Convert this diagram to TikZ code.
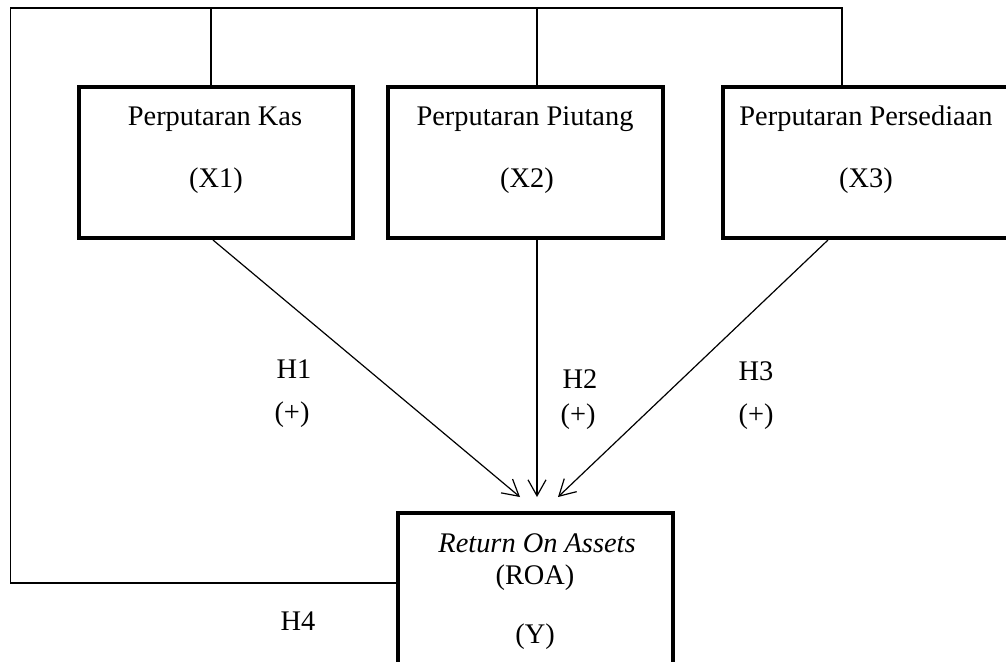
\documentclass[tikz,border=0pt]{standalone}
\usepackage{fontspec}
\setmainfont{Liberation Serif}
\usetikzlibrary{arrows.meta}

\tikzset{
    varbox/.style={draw, line width=2pt, minimum height=75.5pt, inner sep=0pt},
    hlabel/.style={inner sep=0pt}
}

\begin{document}
\begin{tikzpicture}[x=0.5pt,y=-0.5pt,line width=0.6pt,
    >={Straight Barb[length=8pt,width=9pt]},
    font=\fontsize{14.2}{17}\selectfont]

        \useasboundingbox (0,0) rectangle (1006,661);

        %Variabel X
        \node[varbox, minimum width=137pt] (kas) at (216,162.5) {};
        \node[hlabel] (kasname) at (215,119) {Perputaran Kas};
        \node[hlabel] (kasx) at (216,181) {(X1)};

        \node[varbox, minimum width=137.5pt] (piutang) at (525,162.5) {};
        \node[hlabel] (piutangname) at (525,119) {Perputaran Piutang};
        \node[hlabel] (piutangx) at (527,181) {(X2)};

        \node[varbox, minimum width=143pt] (persediaan) at (866,162.5) {};
        \node[hlabel] (persediaanname) at (866,119) {Perputaran Persediaan};
        \node[hlabel] (persediaanx) at (866,181) {(X3)};

        %Variabel Y
        \node[varbox, minimum width=137.5pt, minimum height=85pt] (roa) at (535.5,598) {};
        \node[hlabel] (roaname) at (537,543) {\itshape Return On Assets};
        \node[hlabel] (roashort) at (535,578) {(ROA)};
        \node[hlabel] (roay) at (535,637) {(Y)};

        %Bingkai H4
        \coordinate (kiriatas) at (10.5,8);
        \coordinate (kiribawah) at (10.5,583);
        \coordinate (kasatas) at (211,8);
        \coordinate (piutangatas) at (537,8);
        \coordinate (persediaanatas) at (842,8);
        \draw (roa.west |- kiribawah) -- (kiribawah) -- (kiriatas) -- (persediaanatas) -- (persediaanatas |- persediaan.north);
        \draw (kasatas) -- (kasatas |- kas.north);
        \draw (piutangatas) -- (piutangatas |- piutang.north);

        %Hipotesis
        \coordinate (ujung1) at (520,497);
        \coordinate (ujung2) at (537,497);
        \coordinate (ujung3) at (558,497);
        \draw[->] ([xshift=-1.5pt]kas.south) -- (ujung1);
        \draw[->] (ujung2 |- piutang.south) -- (ujung2);
        \draw[->] ([xshift=-19pt]persediaan.south) -- (ujung3);

        \node[hlabel] (h1) at (294,369) {H1};
        \node[hlabel] (h1tanda) at (292,415) {(+)};
        \node[hlabel] (h2) at (580,379) {H2};
        \node[hlabel] (h2tanda) at (578,417) {(+)};
        \node[hlabel] (h3) at (756,371) {H3};
        \node[hlabel] (h3tanda) at (756,417) {(+)};
        \node[hlabel] (h4) at (298,621) {H4};
\end{tikzpicture}
\end{document}
